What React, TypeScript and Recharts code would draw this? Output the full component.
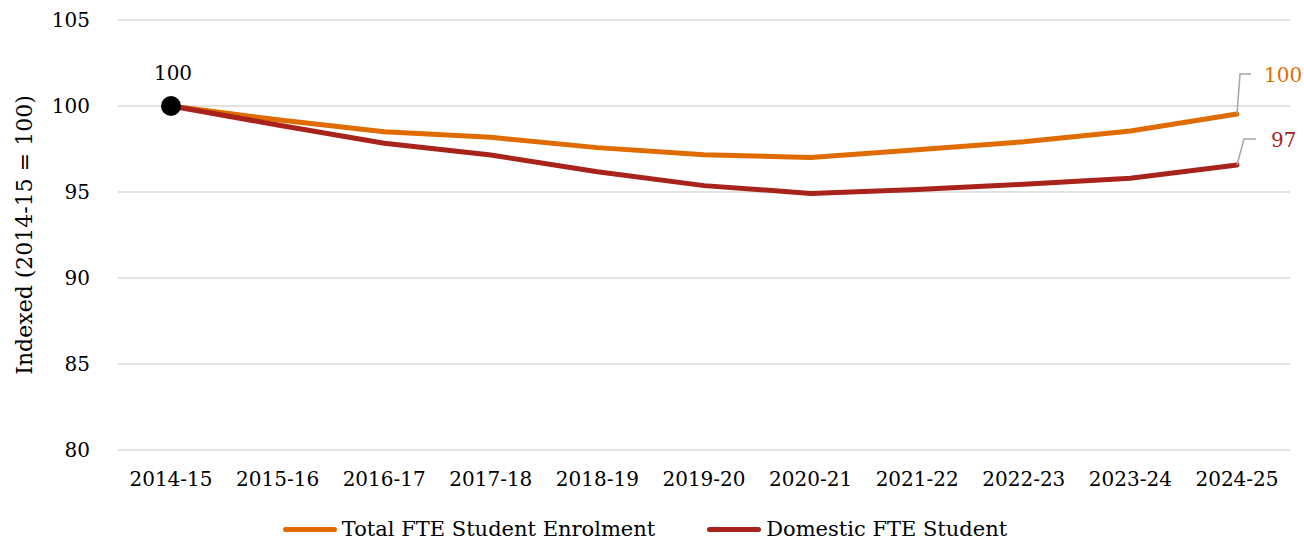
import React from "react";
import { LineChart, Line, XAxis, YAxis, CartesianGrid, Legend, LabelList } from "recharts";

const years = ["2014-15", "2015-16", "2016-17", "2017-18", "2018-19", "2019-20", "2020-21", "2021-22", "2022-23", "2023-24", "2024-25"];
const totalFte = [100, 99.2, 98.5, 98.18, 97.58, 97.17, 97.01, 97.45, 97.92, 98.55, 99.53];
const domesticFte = [100, 98.9, 97.83, 97.15, 96.18, 95.37, 94.92, 95.15, 95.45, 95.8, 96.57];
const yTicks = [80, 85, 90, 95, 100, 105];
const totalLabel = "100";
const domesticLabel = "97";
const startLabel = "100";

const ORANGE = "#E06C00";
const RED = "#A8231B";
const FONT = "'DejaVu Serif', Georgia, serif";

const data = years.map((y, i) => ({ year: y, total: totalFte[i], domestic: domesticFte[i] }));

const lastIdx = years.length - 1;

const EndLabel = (color: string, text: string, dx1: number, dyTop: number, dx2: number, tx: number) => (props: any) => {
  const { x, y, index } = props;
  if (index !== lastIdx) return null;
  const top = y - dyTop;
  return (
    <g>
      <polyline
        points={`${x},${y} ${x + dx1},${top} ${x + dx2},${top}`}
        fill="none"
        stroke="#a6a6a6"
        strokeWidth={1.5}
      />
      <text x={x + tx} y={top + 8} fill={color} fontSize={20} fontFamily={FONT}>
        {text}
      </text>
    </g>
  );
};

const StartDot = (props: any) => {
  const { cx, cy, index } = props;
  if (index !== 0) return <g key={`d${index}`} />;
  return (
    <g key={`d${index}`}>
      <circle cx={cx} cy={cy} r={10} fill="#000" />
      <text x={cx + 2} y={cy - 26} textAnchor="middle" fill="#000" fontSize={20} fontFamily={FONT}>
        {startLabel}
      </text>
    </g>
  );
};

const LegendContent = () => (
  <div style={{ display: "flex", justifyContent: "center", alignItems: "center", fontFamily: FONT, fontSize: 21, color: "#000", paddingTop: 16, lineHeight: "26px" }}>
    <div style={{ display: "flex", alignItems: "center", marginRight: 52 }}>
      <div style={{ width: 54, height: 5, borderRadius: 3, background: ORANGE, marginRight: 5 }} />
      <span>Total FTE Student Enrolment</span>
    </div>
    <div style={{ display: "flex", alignItems: "center" }}>
      <div style={{ width: 54, height: 5, borderRadius: 3, background: RED, marginRight: 5 }} />
      <span>Domestic FTE Student</span>
    </div>
  </div>
);

export default function App() {
  return (
    <div style={{ position: "absolute", left: 0, top: 0, width: 1304, height: 539, background: "#fff" }}>
      <LineChart width={1304} height={539} data={data} margin={{ top: 20, right: 14, left: 0, bottom: 0 }}>
        <CartesianGrid horizontal vertical={false} stroke="#d9d9d9" strokeWidth={1.5} />
        <XAxis
          dataKey="year"
          axisLine={false}
          tickLine={false}
          padding={{ left: 53, right: 53 }}
          height={50}
          tickMargin={16}
          interval={0}
          tick={{ fill: "#000", fontSize: 20, fontFamily: FONT }}
        />
        <YAxis
          domain={[80, 105]}
          ticks={yTicks}
          width={118}
          axisLine={false}
          tickLine={false}
          tickMargin={22}
          tick={{ fill: "#000", fontSize: 20, fontFamily: FONT }}
          label={{
            value: "Indexed (2014-15 = 100)",
            angle: -90,
            position: "insideLeft",
            offset: 24,
            style: { textAnchor: "middle", fill: "#000", fontSize: 22, fontFamily: FONT },
          }}
        />
        <Legend verticalAlign="bottom" height={39} content={<LegendContent />} />
        <Line
          type="linear"
          dataKey="total"
          stroke={ORANGE}
          strokeWidth={5}
          dot={false}
          isAnimationActive={false}
          strokeLinecap="round"
        >
          <LabelList dataKey="total" content={EndLabel(ORANGE, totalLabel, 3, 40, 14, 27)} />
        </Line>
        <Line
          type="linear"
          dataKey="domestic"
          stroke={RED}
          strokeWidth={5}
          dot={StartDot}
          activeDot={false}
          isAnimationActive={false}
          strokeLinecap="round"
        >
          <LabelList dataKey="domestic" content={EndLabel(RED, domesticLabel, 7, 26, 19, 34)} />
        </Line>
      </LineChart>
    </div>
  );
}
